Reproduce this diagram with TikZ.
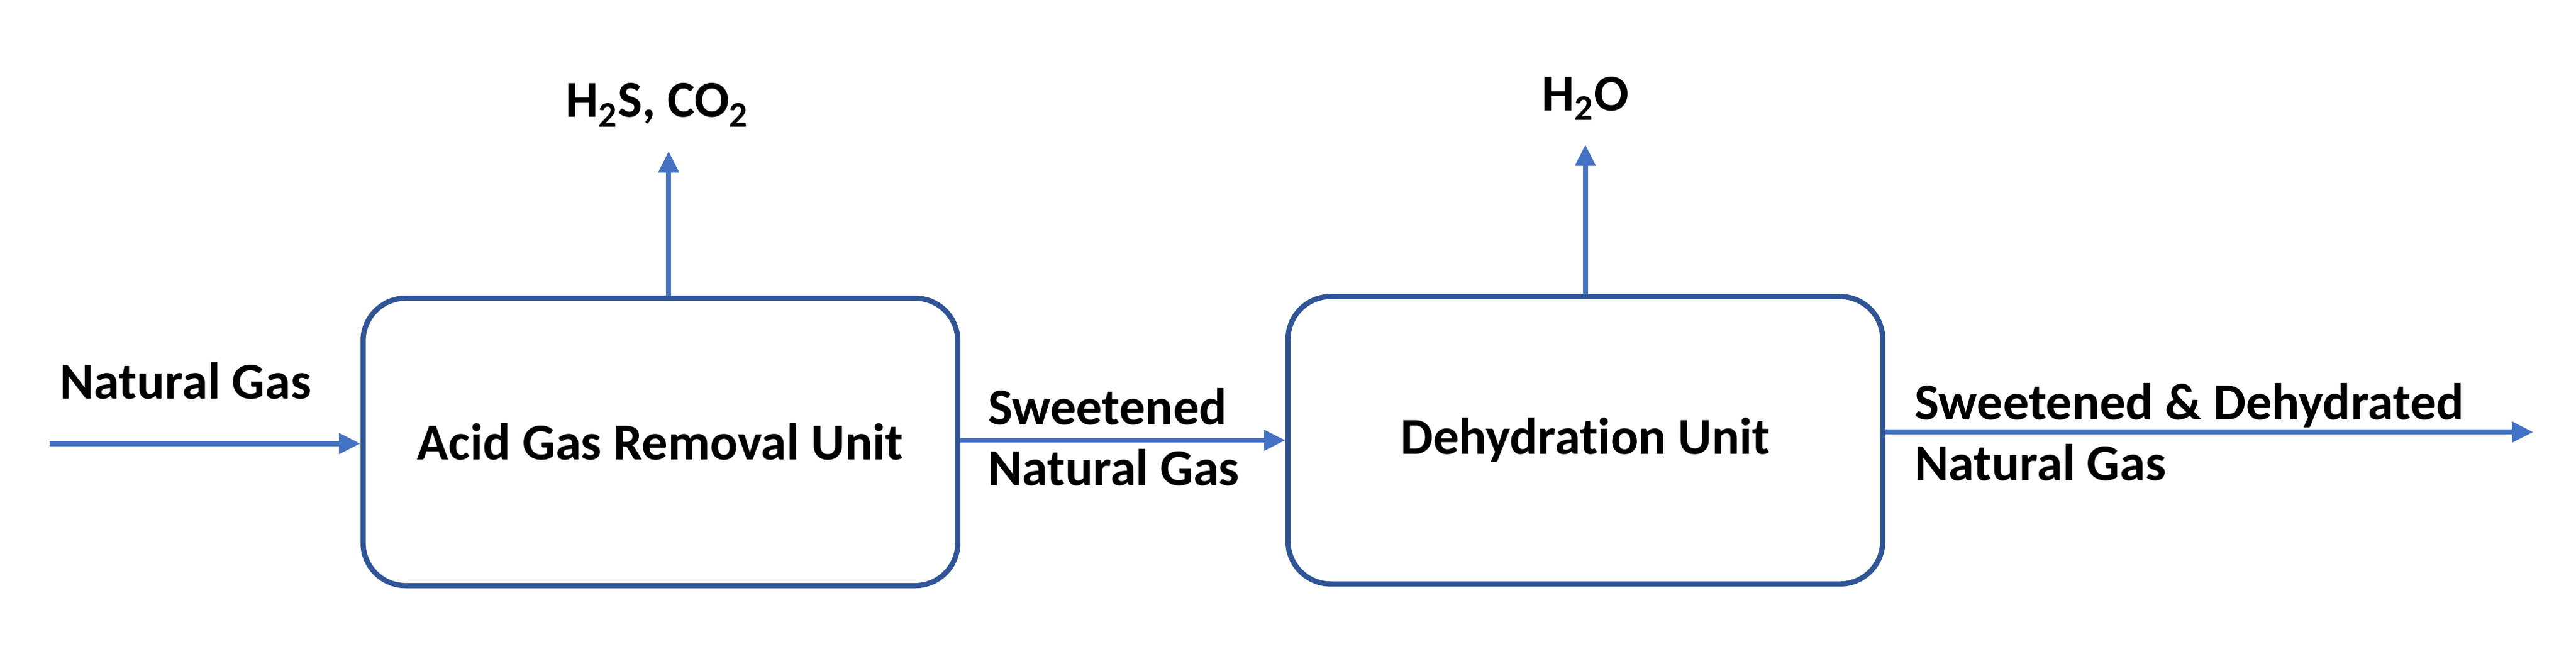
\documentclass[tikz,border=0pt]{standalone}
\usepackage{fontspec}
\setmainfont[Ligatures={NoCommon,NoContextual,NoRare}]{Carlito}
\usetikzlibrary{arrows.meta}
\definecolor{boxc}{HTML}{2F5597}
\definecolor{arr}{HTML}{4472C4}
\begin{document}
\begin{tikzpicture}[x=1pt,y=-1pt,
 unit/.style={draw=boxc,line width=3.2pt,rounded corners=26pt,minimum width=362pt,minimum height=175pt,font=\fontsize{31.5}{37}\selectfont\bfseries},
 flow/.style={draw=arr,line width=3pt,-{Triangle[length=13pt,width=12pt]}},
 lbl/.style={font=\fontsize{31.5}{37}\selectfont\bfseries,align=left}]
\useasboundingbox (0,0) rectangle (1568,395);
\node[unit] (agr) at (402,269) {Acid Gas Removal Unit};
\node[unit] (dh) at (965,268) {Dehydration Unit};
\coordinate (in) at (30,270);
\coordinate (out) at (1542,263);
\coordinate (t1) at (407,92);
\coordinate (t2) at (965,88);
\draw[flow] (in) -- (in -| agr.west);
\draw[flow] (agr.east |- 0,268) -- (dh.west |- 0,268);
\draw[flow] (dh.east |- out) -- (out);
\draw[flow] (t1 |- agr.north) -- (t1);
\draw[flow] (dh.north) -- (t2);
\node[lbl] (l1) at (400,64) {H\textsubscript{2}S, CO\textsubscript{2}};
\node[lbl] (l2) at (965,60) {H\textsubscript{2}O};
\node[lbl] (l3) at (113,232) {Natural Gas};
\node[lbl,anchor=west] (l4) at (598,266) {Sweetened\\Natural Gas};
\node[lbl,anchor=west] (l5) at (1162,263) {Sweetened \& Dehydrated\\Natural Gas};
\end{tikzpicture}
\end{document}
